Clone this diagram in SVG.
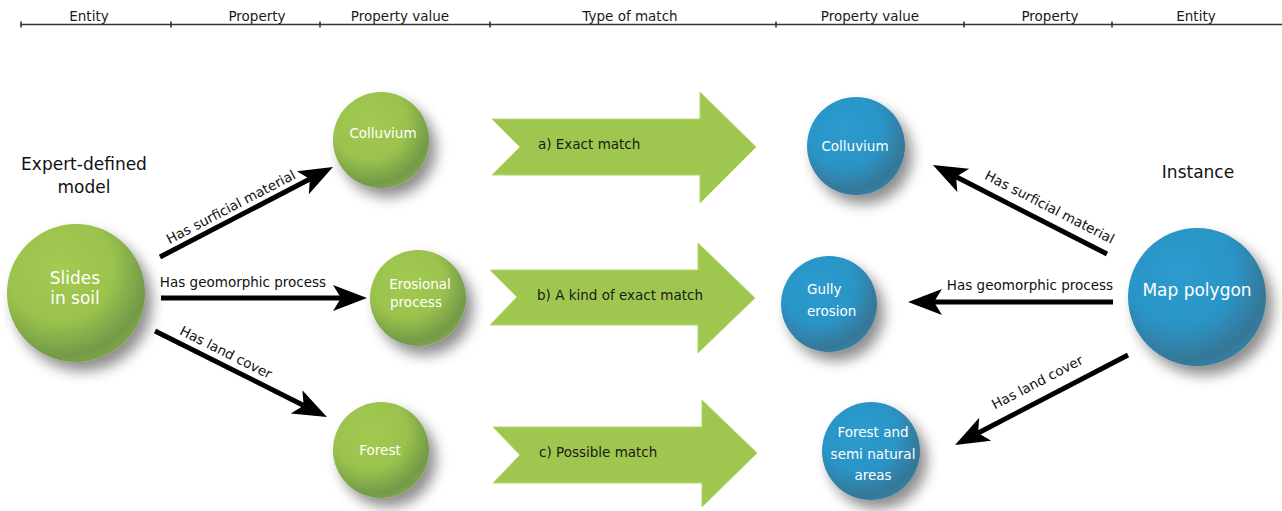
<svg xmlns="http://www.w3.org/2000/svg" width="1282" height="511" viewBox="0 0 1282 511">
<defs>
<style>
text{font-family:"DejaVu Sans","Liberation Sans",sans-serif;}
.ax{font-size:13.5px;fill:#1a1a1a;text-anchor:middle;}
.lbl{font-size:13.5px;fill:#111;text-anchor:middle;}
.big{font-size:17px;fill:#111;text-anchor:middle;}
.nt{font-size:13.5px;fill:#fff;text-anchor:middle;}
.nb{font-size:17px;fill:#fff;text-anchor:middle;}
.axis{stroke:#333;stroke-width:1.6;fill:none;}
.conn{stroke:#000;stroke-width:5;fill:none;marker-end:url(#ah);}
.chev{fill:#9fc74f;stroke:#b4d86c;stroke-width:1;}
.ct{font-size:13.5px;fill:#1a1a1a;}
.g{fill:url(#gg);filter:url(#sh);}
.b{fill:url(#bg);filter:url(#sh);}
</style>
<radialGradient id="gg" cx="0.38" cy="0.32" r="0.78">
<stop offset="0" stop-color="#a3cb52"/>
<stop offset="0.5" stop-color="#9ac24d"/>
<stop offset="0.82" stop-color="#739a47"/>
<stop offset="1" stop-color="#88ad4b"/>
</radialGradient>
<radialGradient id="bg" cx="0.38" cy="0.32" r="0.78">
<stop offset="0" stop-color="#2d9bce"/>
<stop offset="0.5" stop-color="#2b94c6"/>
<stop offset="0.82" stop-color="#357797"/>
<stop offset="1" stop-color="#3486ad"/>
</radialGradient>
<filter id="sh" x="-40%" y="-40%" width="190%" height="190%">
<feGaussianBlur in="SourceAlpha" stdDeviation="7"/>
<feOffset dx="7" dy="9" result="o"/>
<feComponentTransfer><feFuncA type="linear" slope="0.45"/></feComponentTransfer>
<feMerge><feMergeNode/><feMergeNode in="SourceGraphic"/></feMerge>
</filter>
<marker id="ah" markerUnits="userSpaceOnUse" viewBox="-10 -15 40 30" refX="0" refY="0" markerWidth="40" markerHeight="30" orient="auto">
<path d="M26,0 L-8,-13 L0,0 L-8,13 Z" fill="#000"/>
</marker>
</defs>

<g id="axis">
<path class="axis" d="M21,24.5 H1282 M21,21.5 V27.5 M171,21.5 V27.5 M320,21.5 V27.5 M490,21.5 V27.5 M776,21.5 V27.5 M964,21.5 V27.5 M1112,21.5 V27.5"/>
<text class="ax" x="89" y="21">Entity</text>
<text class="ax" x="257" y="21">Property</text>
<text class="ax" x="400" y="21">Property value</text>
<text class="ax" x="630" y="21">Type of match</text>
<text class="ax" x="870" y="21">Property value</text>
<text class="ax" x="1050" y="21">Property</text>
<text class="ax" x="1196" y="21">Entity</text>
</g>

<g id="title-left"><text class="big" x="84" y="170">Expert-defined</text><text class="big" x="84" y="193">model</text></g>
<g id="title-right"><text class="big" x="1198" y="178">Instance</text></g>

<g id="connectors">
<line class="conn" x1="160" y1="257" x2="309.9" y2="179"/>
<line class="conn" x1="161" y1="298" x2="341" y2="298"/>
<line class="conn" x1="155" y1="331" x2="303.7" y2="405.4"/>
<line class="conn" x1="1107" y1="254" x2="956.1" y2="176.8"/>
<line class="conn" x1="1113" y1="302" x2="934" y2="302"/>
<line class="conn" x1="1128" y1="355" x2="978.1" y2="433"/>
<text class="lbl" transform="translate(160,257) rotate(-27.5)" x="86" y="-7">Has surficial material</text>
<text class="lbl" x="243" y="287">Has geomorphic process</text>
<text class="lbl" transform="translate(155,331) rotate(26.6)" x="73" y="-8">Has land cover</text>
<text class="lbl" transform="translate(933,165) rotate(27.1)" x="123" y="-11">Has surficial material</text>
<text class="lbl" x="1030" y="290">Has geomorphic process</text>
<text class="lbl" transform="translate(955,445) rotate(-27.5)" x="102" y="-13">Has land cover</text>
</g>

<g id="match-a">
<polygon class="chev" points="492,119 700,119 700,92 756,147 700,203 700,175 492,175 520,147"/>
<text class="ct" x="538" y="149">a) Exact match</text>
</g>
<g id="match-b">
<polygon class="chev" points="490,270 698,270 698,243 755,298 698,353 698,325 490,325 517,297"/>
<text class="ct" x="537" y="300">b) A kind of exact match</text>
</g>
<g id="match-c">
<polygon class="chev" points="493,427 702,427 702,400 757,453 702,507 702,483 493,483 520,455"/>
<text class="ct" x="539" y="457">c) Possible match</text>
</g>

<g id="slides-in-soil">
<circle class="g" cx="76" cy="293" r="69"/>
<text class="nb" x="75" y="284">Slides</text>
<text class="nb" x="75" y="304">in soil</text>
</g>
<g id="colluvium-model">
<circle class="g" cx="381" cy="140" r="48"/>
<text class="nt" x="383" y="138">Colluvium</text>
</g>
<g id="erosional-process">
<circle class="g" cx="418" cy="298" r="48"/>
<text class="nt" x="420" y="289">Erosional</text>
<text class="nt" x="416" y="307">process</text>
</g>
<g id="forest-model">
<circle class="g" cx="381" cy="450" r="48"/>
<text class="nt" x="380" y="455">Forest</text>
</g>
<g id="colluvium-instance">
<circle class="b" cx="856" cy="146" r="49"/>
<text class="nt" x="855" y="151">Colluvium</text>
</g>
<g id="gully-erosion">
<circle class="b" cx="829" cy="304" r="48"/>
<text class="nt" x="807" y="294" style="text-anchor:start">Gully</text>
<text class="nt" x="807" y="316" style="text-anchor:start">erosion</text>
</g>
<g id="forest-instance">
<circle class="b" cx="871" cy="451" r="49"/>
<text class="nt" x="873" y="437">Forest and</text>
<text class="nt" x="873" y="459">semi natural</text>
<text class="nt" x="873" y="480">areas</text>
</g>
<g id="map-polygon">
<circle class="b" cx="1197" cy="297" r="69"/>
<text class="nb" x="1197" y="296">Map polygon</text>
</g>
</svg>
